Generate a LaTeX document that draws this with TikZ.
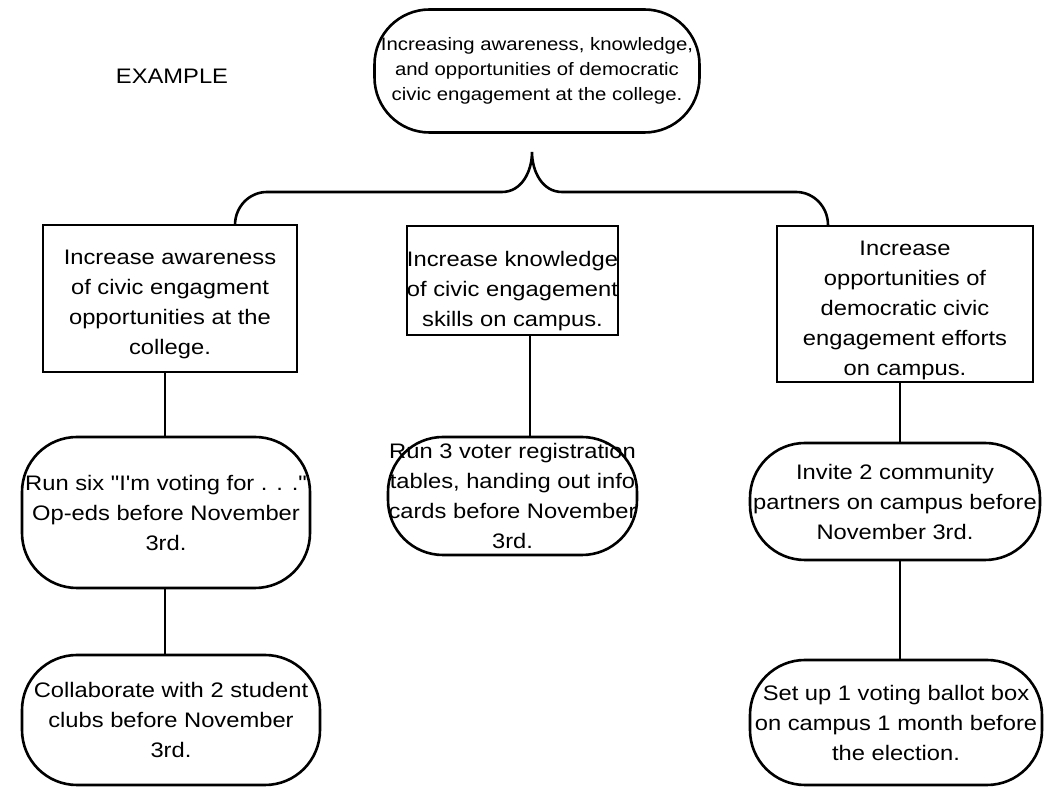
\documentclass[tikz,border=0pt]{standalone}
\usepackage{fontspec}
\setmainfont{Liberation Sans}[FakeStretch=1.13,Ligatures=TeXOff]
\usetikzlibrary{positioning,calc}
\newcommand{\dropline}[1][27pt]{\rule{0pt}{#1}}

\begin{document}
\begin{tikzpicture}[x=1pt,y=1pt,line width=2.6pt,
  goal/.style={draw,rounded corners=55pt,align=center,inner sep=0pt,font=\fontsize{18}{25}\selectfont},
  aim/.style={draw,rectangle,align=center,inner sep=0pt,font=\fontsize{21}{30}\selectfont},
  task/.style={draw,rounded corners=55pt,align=center,inner sep=0pt,font=\fontsize{21}{30}\selectfont}]
\useasboundingbox (0,0) rectangle (1045,790);
\node[font=\fontsize{21}{25}\selectfont] (ex) at (172,714) {EXAMPLE};
\node[goal,minimum width=325,minimum height=123] (top) at (537,719)
  {Increasing awareness, knowledge,\\ and opportunities of democratic\\ civic engagement at the college.};
% objectives
\node[aim,minimum width=254,minimum height=147] (b1) at (170,491.5)
  {\dropline Increase awareness\\ of civic engagment\\ opportunities at the\\ college.};
\node[aim,minimum width=209,minimum height=109] (b2) at (512.5,509.5)
  {\dropline[36pt]Increase knowledge\\ of civic engagement\\ skills on campus.};
\node[aim,minimum width=256,minimum height=156] (b3) at (905,486)
  {\dropline Increase\\ opportunities of\\ democratic civic\\ engagement efforts\\ on campus.};
% activities
\node[task,minimum width=288,minimum height=151] (r1) at (166,277.5)
  {Run six "I'm voting for . . ."\\ Op-eds before November\\ 3rd.};
\node[task,minimum width=298,minimum height=130] (r2) at (171,70)
  {Collaborate with 2 student\\ clubs before November\\ 3rd.};
\node[task,minimum width=249,minimum height=118] (r3) at (512.5,294)
  {Run 3 voter registration\\ tables, handing out info\\ cards before November\\ 3rd.};
\node[task,minimum width=290,minimum height=117] (r4) at (895,288.5)
  {Invite 2 community\\ partners on campus before\\ November 3rd.};
\node[task,minimum width=292,minimum height=125] (r5) at (896,67.5)
  {Set up 1 voting ballot box\\ on campus 1 month before\\ the election.};
% brace
\coordinate (tip) at (532,638);
\coordinate (bl) at (235,565);
\coordinate (br) at (828,565);
\draw (bl) to[out=90,in=180] (267,598) -- (502,598) to[out=0,in=-90] (tip)
  to[out=-90,in=180] (562,598) -- (796,598) to[out=0,in=90] (br);
% connectors
\draw ([xshift=-5pt]b1.south) -- ([xshift=-5pt]b1.south |- r1.north);
\draw ([xshift=-5pt]b1.south |- r1.south) -- ([xshift=-5pt]b1.south |- r2.north);
\draw ([xshift=17.5pt]b2.south) -- ([xshift=17.5pt]b2.south |- r3.north);
\draw ([xshift=-5pt]b3.south) -- ([xshift=-5pt]b3.south |- r4.north);
\draw ([xshift=-5pt]b3.south |- r4.south) -- ([xshift=-5pt]b3.south |- r5.north);
\end{tikzpicture}
\end{document}
